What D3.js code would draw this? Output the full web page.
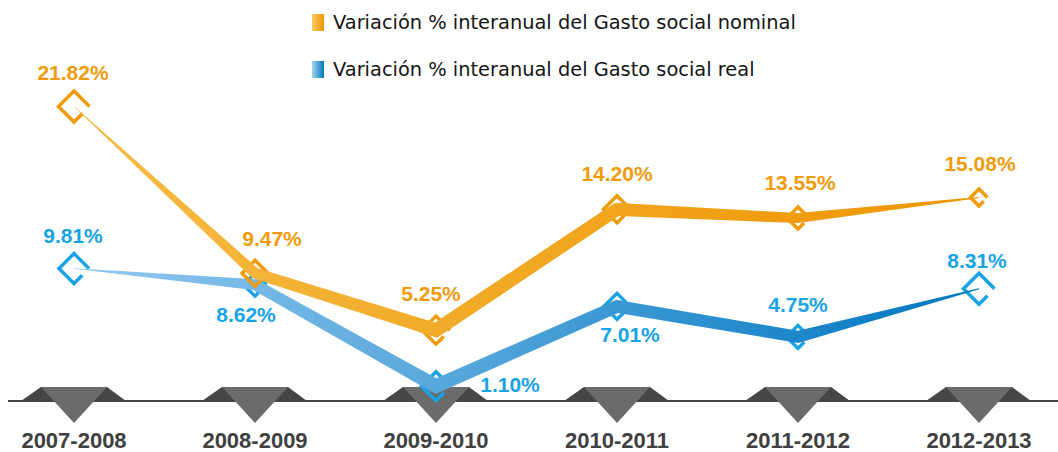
<!DOCTYPE html>
<html>
  <head>
    <meta charset="utf-8">
    <title>Gasto social</title>
    <script src="https://d3js.org/d3.v7.min.js"></script>
    <style>
      body { margin: 0; background: #fff; }
      svg { display: block; }
      .legend text { font-family: "DejaVu Sans", sans-serif; font-size: 19.4px; fill: #141414; }
      .value { font-family: "Liberation Sans", Arial, sans-serif; font-weight: bold; font-size: 21px; text-anchor: middle; }
      .period { font-family: "Liberation Sans", Arial, sans-serif; font-weight: bold; font-size: 22px; fill: #404040; text-anchor: middle; }
    </style>
  </head>
  <body>
    <svg id="chart" width="1058" height="452"></svg>
    <script>
      // data
      var periods = ["2007-2008", "2008-2009", "2009-2010", "2010-2011", "2011-2012", "2012-2013"];
      var nominal = [21.82, 9.47, 5.25, 14.20, 13.55, 15.08];
      var real = [9.81, 8.62, 1.10, 7.01, 4.75, 8.31];
      var seriesNames = ["Variación % interanual del Gasto social nominal",
                         "Variación % interanual del Gasto social real"];

      // layout / style
      var width = 1058, height = 452;
      var x = d3.scalePoint().domain(periods).range([74, 979]);
      var y = d3.scaleLinear().domain([0, 22]).range([401, 104]);
      var fmt = function(v) { return d3.format(".2f")(v) + "%"; };

      var series = [
        { key: "real", values: real, text: "#17a3e6", light: "#93c8ef", dark: "#0077c0",
          taper: [0.5, 11, 14, 13, 12, 1], size: [34, 27, 33, 30, 27, 35],
          offs: [[-1, -26], [-9, 37], [74, 6], [13, 36], [0, -25], [-2, -21]] },
        { key: "nominal", values: nominal, text: "#ef9b0c", light: "#f5bb45", dark: "#ee9500",
          taper: [0.5, 11, 14, 13, 10, 1], size: [35, 30, 32, 31, 26, 21],
          offs: [[-1, -26], [17, -27], [-5, -29], [0, -28], [2, -28], [1, -26]] }
      ];

      var svg = d3.select("#chart");
      var defs = svg.append("defs");

      series.forEach(function(s) {
        var g = defs.append("linearGradient")
          .attr("id", "line-" + s.key)
          .attr("gradientUnits", "userSpaceOnUse")
          .attr("x1", x.range()[0]).attr("x2", x.range()[1])
          .attr("y1", 0).attr("y2", 0);
        g.append("stop").attr("offset", "0%").attr("stop-color", s.light);
        g.append("stop").attr("offset", "100%").attr("stop-color", s.dark);
        var lg = defs.append("linearGradient")
          .attr("id", "key-" + s.key);
        lg.append("stop").attr("offset", "0%").attr("stop-color", d3.interpolateRgb(s.light, "#fff")(0.2));
        lg.append("stop").attr("offset", "100%").attr("stop-color", s.dark);
      });

      // axis: baseline with timeline markers
      var axis = svg.append("g");
      axis.append("line")
        .attr("x1", 8).attr("x2", width)
        .attr("y1", y(0)).attr("y2", y(0))
        .attr("stroke", "#444").attr("stroke-width", 2);
      periods.forEach(function(p) {
        var cx = x(p), by = y(0);
        axis.append("path")
          .attr("d", "M" + (cx - 53) + "," + by + "L" + (cx - 33) + "," + (by - 14) +
                     "L" + (cx + 33) + "," + (by - 14) + "L" + (cx + 52) + "," + by + "Z")
          .attr("fill", "#464646");
        axis.append("path")
          .attr("d", "M" + (cx - 33) + "," + (by - 14) + "L" + (cx + 33) + "," + (by - 14) +
                     "L" + cx + "," + (by + 22) + "Z")
          .attr("fill", "#6b6b6b");
        axis.append("text")
          .attr("class", "period")
          .attr("x", cx).attr("y", 448)
          .text(p);
      });

      // tapered ribbon through the points
      function ribbon(pts, w) {
        var left = [], right = [];
        pts.forEach(function(p, i) {
          var segs = [];
          if (i > 0) segs.push([pts[i - 1], p]);
          if (i < pts.length - 1) segs.push([p, pts[i + 1]]);
          var normals = segs.map(function(s) {
            var dx = s[1][0] - s[0][0], dy = s[1][1] - s[0][1], l = Math.hypot(dx, dy);
            return [-dy / l, dx / l];
          });
          var n = [d3.sum(normals, function(v) { return v[0]; }), d3.sum(normals, function(v) { return v[1]; })];
          var nl = Math.hypot(n[0], n[1]);
          n = [n[0] / nl, n[1] / nl];
          var k = (w[i] / 2) / (n[0] * normals[0][0] + n[1] * normals[0][1]);
          left.push([p[0] + n[0] * k, p[1] + n[1] * k]);
          right.push([p[0] - n[0] * k, p[1] - n[1] * k]);
        });
        return "M" + left.concat(right.reverse()).map(function(q) { return q.join(","); }).join("L") + "Z";
      }

      function diamond(cx, cy, d) {
        var r = d / 2;
        var b = [cx, cy + r], rt = [cx + r, cy];
        var g1 = [b[0] + (rt[0] - b[0]) * 0.55, b[1] + (rt[1] - b[1]) * 0.55];
        return "M" + rt + "L" + [cx, cy - r] + "L" + [cx - r, cy] + "L" + b + "L" + g1;
      }

      series.forEach(function(s) {
        var pts = s.values.map(function(v, i) { return [x(periods[i]), y(v)]; });
        svg.append("g").selectAll("path")
          .data(pts)
          .enter().append("path")
            .attr("d", function(d, i) { return diamond(d[0], d[1], s.size[i] - 4); })
            .attr("fill", "none")
            .attr("stroke", s.text)
            .attr("stroke-width", 3.5)
            .attr("stroke-linejoin", "miter");
        svg.append("path")
          .attr("d", ribbon(pts, s.taper))
          .attr("fill", "url(#line-" + s.key + ")");
      });

      // value labels
      series.forEach(function(s) {
        svg.append("g").selectAll("text")
          .data(s.values)
          .enter().append("text")
            .attr("class", "value")
            .attr("fill", s.text)
            .attr("x", function(d, i) { return x(periods[i]) + s.offs[i][0]; })
            .attr("y", function(d, i) { return y(d) + s.offs[i][1]; })
            .text(fmt);
      });

      // legend
      var legend = svg.append("g").attr("class", "legend");
      ["nominal", "real"].forEach(function(k, i) {
        legend.append("rect")
          .attr("x", 312).attr("y", 14 + i * 47)
          .attr("width", 12).attr("height", 17)
          .attr("fill", "url(#key-" + k + ")");
        legend.append("text")
          .attr("x", 333).attr("y", 29 + i * 47)
          .text(seriesNames[i]);
      });
    </script>
  </body>
</html>
